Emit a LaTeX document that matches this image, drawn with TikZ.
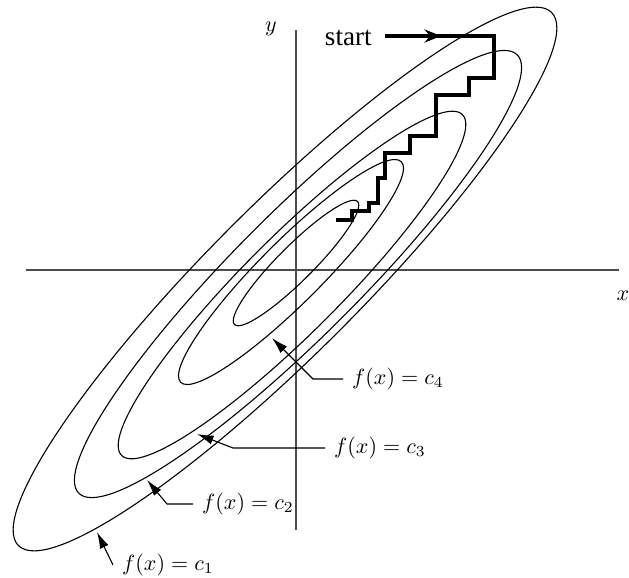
\documentclass[tikz,border=0pt]{standalone}
\usepackage{fontspec}
\newfontfamily\timesfont{Liberation Serif}
\usetikzlibrary{arrows.meta}
\begin{document}
\begin{tikzpicture}[x=0.4545pt, y=-0.4545pt,
  contour/.style={line width=0.5pt},
  axisline/.style={line width=0.7pt, black!70},
  descent/.style={line width=1.4pt, line join=miter},
  leader/.style={line width=0.5pt, -{Latex[length=7.5pt,width=4.2pt]}},
  lab/.style={anchor=west, inner sep=4pt}]
\useasboundingbox (0,0) rectangle (629,577);
% axes
\coordinate (xl) at (26,270);
\coordinate (xr) at (619,270);
\coordinate (yt) at (296,30);
\coordinate (yb) at (296,530);
\draw[axisline] (xl) -- (xr);
\draw[axisline] (yb) -- (yt);
\node (xlab) at (623,296) {$x$};
\node (ylab) at (271,29) {$y$};
% contours
\coordinate (c1) at (285,279);
\coordinate (c2) at (298,274);
\coordinate (c3) at (292,285);
\coordinate (c4) at (291,272);
\coordinate (c5) at (296,263);
\draw[contour, rotate around={45:(c1)}] (c1) ellipse [x radius=377, y radius=75];
\draw[contour, rotate around={45:(c2)}] (c2) ellipse [x radius=310, y radius=62];
\draw[contour, rotate around={45:(c3)}] (c3) ellipse [x radius=241, y radius=48];
\draw[contour, rotate around={45:(c4)}] (c4) ellipse [x radius=156, y radius=31];
\draw[contour, rotate around={45:(c5)}] (c5) ellipse [x radius=87, y radius=17.5];
% start and descent path
\node[anchor=base east, inner sep=0pt, font=\timesfont\fontsize{12.3}{14}\selectfont] (start) at (372,45) {start};
\coordinate (s0) at (385,36);
\coordinate (s1) at (494,36);
\coordinate (send) at (336,220);
\draw[descent] (s0) -- (s1) -- (494,78) -- (469,78) -- (469,95) -- (436,95) -- (436,136)
  -- (410,136) -- (410,153) -- (385,153) -- (385,178) -- (378,178) -- (378,203)
  -- (369,203) -- (369,211) -- (352,211) -- (352,220) -- (send);
\draw[line width=1.4pt, -{Stealth[length=7.5pt,width=6pt,inset=2.5pt]}] (s0) -- (441,36);
% labels
\node[lab] (l4) at (343,379) {$f(x)=c_4$};
\node[lab] (l3) at (325,448) {$f(x)=c_3$};
\node[lab] (l2) at (193,504) {$f(x)=c_2$};
\node[lab] (l1) at (113,565) {$f(x)=c_1$};
\coordinate (t4) at (272,338);
\coordinate (t3) at (197,434);
\coordinate (t2) at (147,480);
\coordinate (t1) at (97,532);
\draw[leader] (l4.west) -- (313,379) -- (t4);
\draw[leader] (l3.west) -- (233,448) -- (t3);
\draw[leader] (l2.west) -- (167,504) -- (t2);
\draw[leader] (l1.west) -- (t1);
\end{tikzpicture}
\end{document}
